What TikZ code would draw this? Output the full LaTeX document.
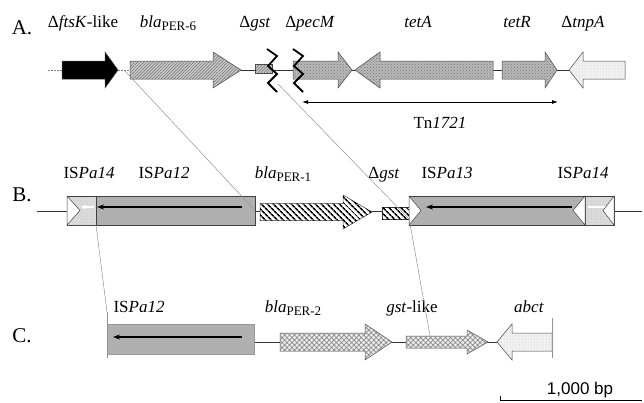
\documentclass[tikz,border=0pt]{standalone}
\usepackage{fontspec}
\setmainfont{Liberation Serif}
\newfontfamily\barsans{Liberation Sans}
\usetikzlibrary{positioning}
\usetikzlibrary{patterns,patterns.meta}
\usetikzlibrary{arrows.meta}

\newcommand{\pervar}[1]{\textit{bla}\raisebox{-.4ex}{\fontsize{13}{13}\selectfont PER-#1}}

% block arrow for a gene: [half body height]{style}{tail x}{tip x}{head base x}{y}
\newcommand{\genearrow}[6][9]{%
  \path[#2] (#3,#6-#1) -- (#5,#6-#1) -- (#5,#6-2*#1) -- (#4,#6)
    -- (#5,#6+2*#1) -- (#5,#6+#1) -- (#3,#6+#1) -- cycle;}

\begin{document}
\begin{tikzpicture}[x=1pt, y=-1pt, font=\fontsize{17}{20}\selectfont]

\tikzset{gene-label/.style={anchor=base, inner sep=0pt},
         row-letter/.style={anchor=base, inner sep=0pt, font=\fontsize{21}{24}\selectfont},
         outline/.style={draw=black!75, line width=0.5pt},
         black-gene/.style={outline, fill=black},
         fine-lines/.style={outline, fill=gray!40,
                            postaction={pattern={Lines[angle=45,distance=2.2pt,line width=0.5pt]}, pattern color=black!60}},
         tet-dots/.style={outline, fill=gray!55, postaction={pattern=crosshatch dots, pattern color=black!55}},
         pale-dots/.style={outline, fill=gray!10, postaction={pattern=dots, pattern color=gray!55}},
         bold-stripes/.style={outline, fill=white,
                              postaction={pattern={Lines[angle=-45,distance=4pt,line width=1.6pt]}, pattern color=black}},
         net/.style={outline, fill=gray!15,
                     postaction={pattern={Hatch[angle=45,distance=3.5pt,line width=0.7pt]}, pattern color=gray!90}},
         is-box/.style={outline, fill=gray!62, inner sep=0pt, outer sep=0pt, minimum height=29pt},
         is-end/.style={is-box, fill=gray!28, postaction={pattern=dots, pattern color=gray!60}},
         ir/.style={outline, fill=white},
         is-arrow/.style={line width=1.6pt, -{Stealth[length=7pt,width=5pt]}},
         backbone/.style={line width=0.6pt, black!80},
         link/.style={gray!85, line width=0.5pt}}

\useasboundingbox (0,0) rectangle (644,402);

% --- A: Tn1721 side
\node[row-letter] (rowA) at (22,34) {A.};
\draw[backbone] (241,70) -- (570,70);
\draw[backbone, gray, dash pattern=on 2pt off 1pt] (48,70) -- (62,70) (118,70) -- (130,70);
\genearrow{black-gene}{62}{118}{105}{70}
\genearrow{fine-lines}{130}{241}{213}{70}
\node[fine-lines, inner sep=0pt, minimum width=17pt, minimum height=9pt] (gstA) at (263.5,68.5) {};
\genearrow{tet-dots}{293}{352}{338}{70}
\genearrow{tet-dots}{493}{355}{380}{70}
\genearrow{tet-dots}{502}{557}{545}{70}
\genearrow{pale-dots}{625}{569}{583}{70}
\foreach \zx in {267,293}
  \draw[line width=1.8pt] (\zx,49) -- ++(10,7) -- ++(-9,10) -- ++(9,8) -- ++(-9,9) -- ++(9,9);

\coordinate (tnL) at (302,102);
\coordinate (tnR) at (558,102);
\draw[{Latex[length=6pt,width=4pt]}-{Latex[length=6pt,width=4pt]}, line width=0.8pt] (tnL) -- (tnR);
\node[gene-label] (tn) at (440,128) {Tn\textit{1721}};

\node[gene-label] (lab-ftsK) at (83,27) {Δ\textit{ftsK}-like};
\node[gene-label] (lab-per6) at (168,27) {\pervar{6}};
\node[gene-label] (lab-gstA) at (255,27) {Δ\textit{gst}};
\node[gene-label] (lab-pecM) at (310,27) {Δ\textit{pecM}};
\node[gene-label] (lab-tetA) at (418,27) {\textit{tetA}};
\node[gene-label] (lab-tetR) at (517,27) {\textit{tetR}};
\node[gene-label] (lab-tnpA) at (583,27) {Δ\textit{tnpA}};

% --- B: blaPER-1 between the IS elements
\node[row-letter] (rowB) at (22,201) {B.};
\draw[backbone] (37,211) -- (642,211);
\node[is-end, minimum width=29pt] (is14L) at (81.5,210.5) {};
\node[is-box, minimum width=159pt, right=0pt of is14L] (is12B) {};
\path[ir] (is14L.north west) -- ([xshift=13pt]is14L.west) -- (is14L.south west) -- cycle;
\draw[white, line width=1.6pt, -{Stealth[length=5pt,width=5pt]}]
  ([xshift=-2pt,yshift=3.5pt]is14L.east) -- ([xshift=14pt,yshift=3.5pt]is14L.west);
\draw[is-arrow] ([xshift=-13pt,yshift=3.5pt]is12B.east) -- ([xshift=1pt,yshift=3.5pt]is12B.west);

\genearrow[8.5]{bold-stripes}{260}{372}{343}{212}
\node[bold-stripes, inner sep=0pt, minimum width=27pt, minimum height=12pt] (gstB) at (395.5,213) {};

\node[is-box, minimum width=176pt] (is13B) at (497,210.5) {};
\node[is-end, minimum width=29pt, right=0pt of is13B] (is14R) {};
\path[ir] (is13B.north west) -- ([xshift=12pt]is13B.west) -- (is13B.south west) -- cycle;
\path[ir] (is13B.north east) -- ([xshift=-12pt]is13B.east) -- (is13B.south east) -- cycle;
\path[ir] (is14R.north east) -- ([xshift=-11pt]is14R.east) -- (is14R.south east) -- cycle;
\draw[white, line width=1.6pt] ([xshift=3pt,yshift=3.5pt]is14R.west) -- ([xshift=-9pt,yshift=3.5pt]is14R.east);
\draw[is-arrow] ([xshift=-13pt,yshift=3.5pt]is13B.east) -- ([xshift=17pt,yshift=3.5pt]is13B.west);

\node[gene-label] (lab-is14L) at (89,178) {IS\textit{Pa14}};
\node[gene-label] (lab-is12B) at (164,178) {IS\textit{Pa12}};
\node[gene-label] (lab-per1) at (283,178) {\pervar{1}};
\node[gene-label] (lab-gstB) at (384,178) {Δ\textit{gst}};
\node[gene-label] (lab-is13B) at (447,178) {IS\textit{Pa13}};
\node[gene-label] (lab-is14R) at (583,178) {IS\textit{Pa14}};

% --- C: blaPER-2 region
\node[row-letter] (rowC) at (22,342) {C.};
\draw[backbone] (254,342) -- (497,342);
\node[is-box, draw=gray!80, minimum width=147pt, minimum height=30pt] (is12C) at (180.5,339) {};
\draw[is-arrow] ([xshift=-12pt,yshift=2pt]is12C.east) -- ([xshift=6pt,yshift=2pt]is12C.west);
\genearrow{net}{280}{392}{365}{342}
\genearrow[6]{net}{406}{488}{467}{342}
\genearrow{pale-dots}{552}{497}{512}{342}
\coordinate (abctEnd) at (552,318);
\draw[link] (abctEnd) -- ++(0,40);

\node[gene-label] (lab-is12C) at (139,312) {IS\textit{Pa12}};
\node[gene-label] (lab-per2) at (293,312) {\pervar{2}};
\node[gene-label] (lab-gstC) at (412,312) {\textit{gst}-like};
\node[gene-label] (lab-abct) at (529,312) {\textit{abct}};

% thin lines joining the matching ends
\coordinate (gapA) at (125,71);
\coordinate (cutA) at (278,84);
\coordinate (leftC) at (107,312);
\coordinate (gstC) at (430,336);
\draw[link] (gapA) -- (is12B.east);
\draw[link] (cutA) -- (gstB.south east);
\draw[link] (gstB.south east) -- (gstC);
\draw[link] (is14L.south east) -- (leftC);
\draw[link] (leftC) -- ([yshift=-4pt]is12C.south west);

% scale
\coordinate (barL) at (500,396);
\coordinate (barR) at (642,400.5);
\draw[line width=0.6pt] (barL) |- (barR);
\node[gene-label, font=\barsans\fontsize{17}{20}\selectfont] (bar) at (580,394) {1,000 bp};

\end{tikzpicture}
\end{document}
